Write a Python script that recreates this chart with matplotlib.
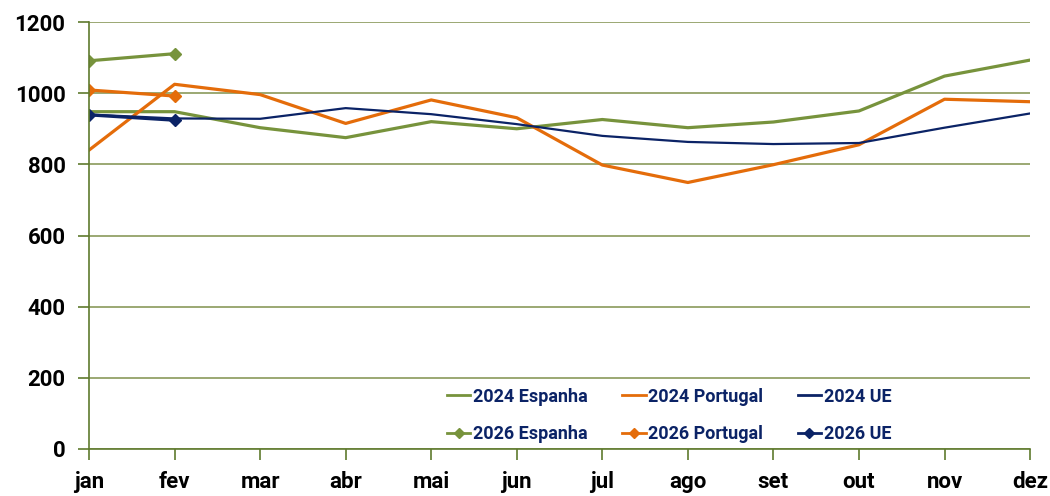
import matplotlib.pyplot as plt

# =====================================
# Data
# =====================================

months = ["jan", "fev", "mar", "abr", "mai", "jun",
          "jul", "ago", "set", "out", "nov", "dez"]

espanha_2024 = [948, 948, 903, 875, 920, 900, 926, 903, 919, 950, 1048, 1093]
portugal_2024 = [840, 1025, 996, 915, 981, 931, 798, 749, 799, 855, 983, 976]
ue_2024 = [940, 929, 928, 958, 941, 913, 880, 863, 857, 860, 903, 943]

espanha_2026 = [1091, 1111]
portugal_2026 = [1009, 992]
ue_2026 = [939, 924]

y_ticks = [0, 200, 400, 600, 800, 1000, 1200]

# =====================================
# Styles
# =====================================

green = "#77933C"
orange = "#E46C0A"
navy = "#0B2366"
grid_color = "#8A9A5B"
axis_color = "#5F7A2E"
font = "Roboto"

plt.rcParams["font.family"] = [font, "DejaVu Sans"]
plt.rcParams["font.weight"] = "bold"

fig = plt.figure(figsize=(10.5, 4.96), dpi=100)
ax = fig.add_axes([0.0848, 0.0948, 0.8962, 0.8608])

x = list(range(len(months)))

l1, = ax.plot(x, espanha_2024, color=green, lw=2.3, label="2024 Espanha")
l2, = ax.plot(x, portugal_2024, color=orange, lw=2.3, label="2024 Portugal")
l3, = ax.plot(x, ue_2024, color=navy, lw=1.6, label="2024 UE")

l4, = ax.plot(x[:2], espanha_2026, color=green, lw=2.3, marker="D", ms=6,
              label="2026 Espanha")
l5, = ax.plot(x[:2], portugal_2026, color=orange, lw=2.3, marker="D", ms=6,
              label="2026 Portugal")
l6, = ax.plot(x[:2], ue_2026, color=navy, lw=2.3, marker="D", ms=6,
              label="2026 UE")

# =====================================
# Axes
# =====================================

ax.set_xlim(0, 11)
ax.set_ylim(0, 1200)
ax.set_yticks(y_ticks)
ax.set_yticklabels([str(v) for v in y_ticks], fontweight="bold", fontsize=16)
ax.set_xticks(x)
ax.set_xticklabels(months, fontweight="bold", fontsize=16)

for side in ["top", "right"]:
    ax.spines[side].set_visible(False)
for side in ["left", "bottom"]:
    ax.spines[side].set_color(axis_color)
    ax.spines[side].set_linewidth(1.2)

ax.yaxis.grid(True, color=grid_color, lw=1.2)
ax.set_axisbelow(True)

ax.tick_params(axis="both", colors=axis_color, width=1.2, length=8,
               labelcolor="black")
ax.tick_params(axis="x", pad=8)
ax.tick_params(axis="y", pad=9)

# legend filled row by row like the original
handles = [l1, l4, l2, l5, l3, l6]
leg = ax.legend(handles=handles, labels=[h.get_label() for h in handles],
                loc="lower right", bbox_to_anchor=(0.87, -0.025), ncol=3,
                frameon=False, handlelength=1.3, handletextpad=0.15,
                columnspacing=1.9, labelspacing=1.1,
                prop={"family": font, "weight": "bold", "size": 13})
for t in leg.get_texts():
    t.set_color(navy)
for h in leg.legend_handles:
    h.set_linewidth(2)
    h.set_markersize(5)

fig.savefig("out.png", dpi=100)
